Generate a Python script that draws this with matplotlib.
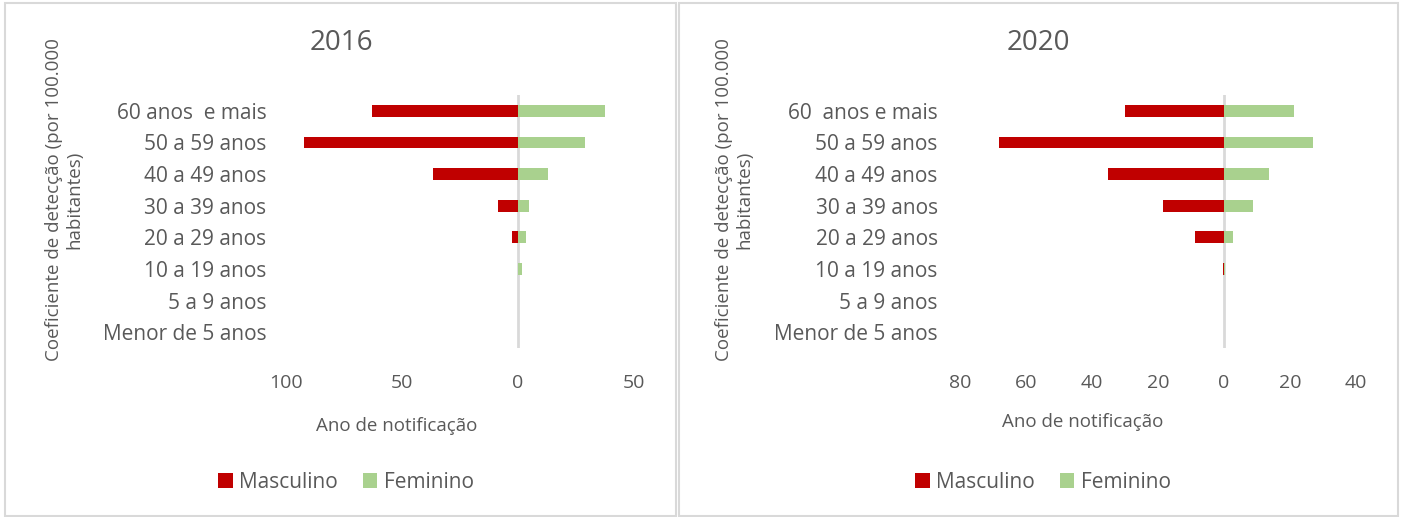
import matplotlib
matplotlib.use("Agg")
import matplotlib.pyplot as plt
from matplotlib.patches import Rectangle

plt.rcParams['font.family'] = ['Open Sans', 'DejaVu Sans']

categories = ["Menor de 5 anos", "5 a 9 anos", "10 a 19 anos", "20 a 29 anos",
              "30 a 39 anos", "40 a 49 anos", "50 a 59 anos", "60 anos  e mais"]
categories_2020 = ["Menor de 5 anos", "5 a 9 anos", "10 a 19 anos", "20 a 29 anos",
                   "30 a 39 anos", "40 a 49 anos", "50 a 59 anos", "60  anos e mais"]

masc_2016 = [0, 0, 0, 2.5, 8.5, 36.5, 92.2, 62.8]
fem_2016 = [0, 0, 1.6, 3.4, 4.9, 12.8, 28.7, 37.4]
masc_2020 = [0, 0, 0.3, 8.7, 18.6, 35.1, 68.1, 30.1]
fem_2020 = [0, 0, 0.4, 2.8, 8.9, 13.6, 27.1, 21.1]

ticks_2016 = [-100, -50, 0, 50]
ticks_2020 = [-80, -60, -40, -20, 0, 20, 40]

RED = "#c00000"
GREEN = "#a9d18e"
GRAY = "#595959"
W, H = 1402, 517

fig = plt.figure(figsize=(W / 100, H / 100), dpi=100)

def fx(px):
    return px / W

def fy(py):
    return 1 - py / H

# panel borders
for x0, x1 in [(5, 676), (679, 1398)]:
    fig.patches.append(Rectangle((fx(x0), fy(516)), fx(x1 - x0), 513 / H,
                                 transform=fig.transFigure, fill=False,
                                 edgecolor="#d9d9d9", linewidth=1.5))


def panel(xl, xr, cats, masc, fem, ticks, xlim, title, title_x, ylab_x,
          xlab_x, xlab_y, leg_x, pad):
    ax = fig.add_axes([fx(xl), fy(348), fx(xr - xl), 253 / H])
    ypos = list(range(len(cats)))
    ax.barh(ypos, [-m for m in masc], height=0.37, color=RED, edgecolor="none")
    ax.barh(ypos, fem, height=0.37, color=GREEN, edgecolor="none")
    ax.axvline(0, color="#d9d9d9", linewidth=2, zorder=0)
    ax.set_xlim(*xlim)
    ax.set_ylim(-0.5, len(cats) - 0.5)
    ax.set_yticks(ypos)
    ax.set_yticklabels(cats, fontsize=15, color=GRAY)
    ax.set_xticks(ticks)
    ax.set_xticklabels([str(abs(t)) for t in ticks], fontsize=14, color=GRAY)
    ax.tick_params(axis="both", length=0)
    ax.tick_params(axis="y", pad=pad)
    ax.tick_params(axis="x", pad=19)
    for s in ax.spines.values():
        s.set_visible(False)
    fig.text(fx(title_x), fy(43), title, fontsize=20, color=GRAY,
             ha="center", va="center")
    fig.text(fx(ylab_x), fy(200), "Coeficiente de detecção (por 100.000\nhabitantes)",
             fontsize=13.5, color=GRAY, rotation=90, ha="center", va="center",
             multialignment="center", linespacing=1.15)
    fig.text(fx(xlab_x), fy(xlab_y), "Ano de notificação", fontsize=13.5,
             color=GRAY, ha="center", va="center")
    handles = [Rectangle((0, 0), 1, 1, facecolor=RED, edgecolor="none"),
               Rectangle((0, 0), 1, 1, facecolor=GREEN, edgecolor="none")]
    fig.legend(handles, ["Masculino", "Feminino"], loc="center",
               bbox_to_anchor=(fx(leg_x), fy(482)), ncol=2, frameon=False,
               fontsize=15, labelcolor=GRAY, handlelength=0.7, handleheight=0.7,
               handletextpad=0.3, columnspacing=1.2)
    return ax

panel(286, 634, categories, masc_2016, fem_2016, ticks_2016, (-100, 50),
      "2016", 341, 64, 397, 426, 346, 14)
panel(960, 1356, categories_2020, masc_2020, fem_2020, ticks_2020, (-80, 40),
      "2020", 1038, 734, 1083, 422, 1043, 16)

fig.savefig("out.png", dpi=100)
